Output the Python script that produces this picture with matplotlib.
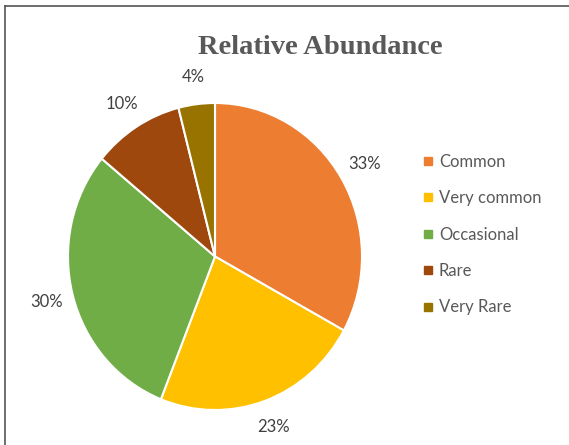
import matplotlib.pyplot as plt
from matplotlib.lines import Line2D

categories = ["Common", "Very common", "Occasional", "Rare", "Very Rare"]
shares = [33, 23, 30, 10, 4]
colors = ["#ED7D31", "#FFC000", "#70AD47", "#9E480E", "#997300"]

W, H = 569, 445
fig = plt.figure(figsize=(W / 100, H / 100), dpi=100)

# pie centre and half-axes in pixels (the source pie is slightly taller than wide)
cx, cy, rx, ry = 215, 256.5, 147, 153.5
ax = fig.add_axes([(cx - rx) / W, (H - cy - ry) / H, 2 * rx / W, 2 * ry / H])
wedges, texts, autotexts = ax.pie(
    shares, colors=colors, startangle=90, counterclock=False, radius=1.0,
    autopct="%d%%", pctdistance=1.18,
    wedgeprops=dict(edgecolor="white", linewidth=1.5),
    textprops=dict(color="#404040", fontsize=12, family="Lato"))
ax.set_xlim(-1, 1)
ax.set_ylim(-1, 1)
ax.set_aspect("auto")
ax.axis("off")

fig.text(320 / W, 1 - 47 / H, "Relative Abundance", ha="center", va="center",
         fontsize=20.5, fontweight="bold", color="#595959", family="Liberation Serif")

handles = [Line2D([0], [0], marker="s", linestyle="", markersize=6,
                  markerfacecolor=c, markeredgecolor=c) for c in colors]
fig.legend(handles, categories, loc="upper left",
           bbox_to_anchor=(408 / W, 1 - 139 / H), frameon=False,
           prop=dict(family="Lato", size=12), labelcolor="#595959",
           handlelength=0.6, handletextpad=0.35, labelspacing=1.22)

# frame lines (top and left)
fig.add_artist(Line2D([5 / W, 1], [1 - 6 / H, 1 - 6 / H], color="#555555", lw=1.2))
fig.add_artist(Line2D([5 / W, 5 / W], [0, 1 - 6 / H], color="#555555", lw=1.2))

fig.savefig("out.png", dpi=100)
